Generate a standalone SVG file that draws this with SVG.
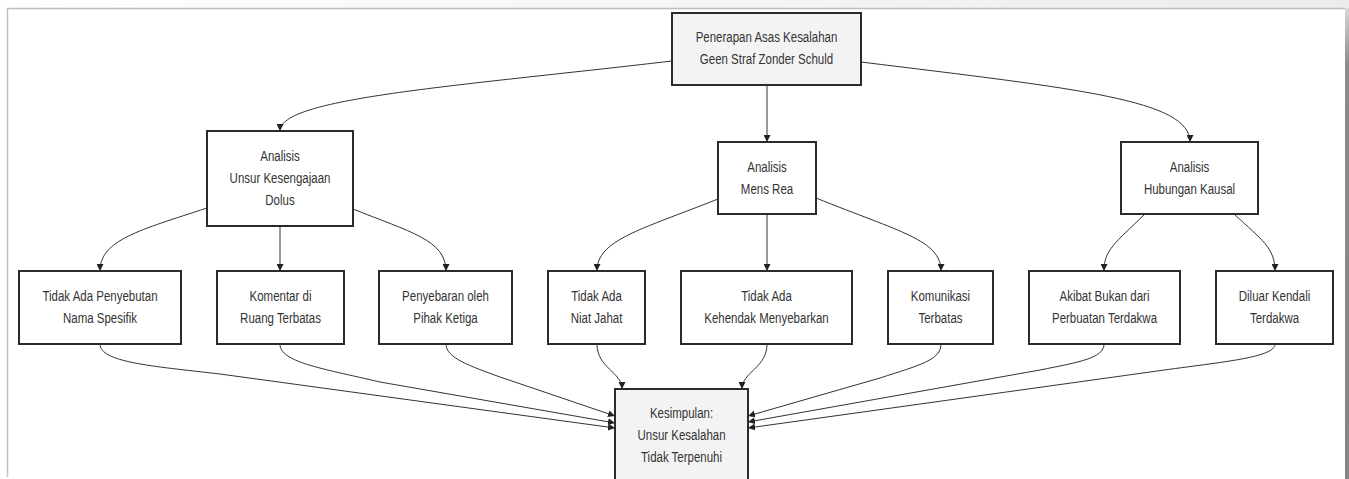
<svg xmlns="http://www.w3.org/2000/svg" width="1349" height="479" viewBox="0 0 1349 479">
  <style>
    .node rect { fill: #ffffff; stroke: #2b2b2b; stroke-width: 2; }
    .node.key rect { fill: #f3f3f3; }
    .lbl { font-family: "Liberation Sans", Arial, sans-serif; font-size: 14px; fill: #333333; text-anchor: middle; }
    .edge { fill: none; stroke: #333333; stroke-width: 1; marker-end: url(#arrow); }
  </style>
  <defs>
    <marker id="arrow" viewBox="0 0 10 10" refX="10" refY="5" markerWidth="7" markerHeight="7" markerUnits="userSpaceOnUse" orient="auto">
      <path d="M0,0 L10,5 L0,10 z" fill="#222222"/>
    </marker>
    <linearGradient id="topBand" x1="0" y1="0" x2="1" y2="0">
      <stop offset="0" stop-color="#ffffff"/>
      <stop offset="1" stop-color="#ececec"/>
    </linearGradient>
    <linearGradient id="rightBand" x1="0" y1="0" x2="0" y2="1">
      <stop offset="0" stop-color="#d8d8d8"/>
      <stop offset="0.12" stop-color="#8c8c8c"/>
      <stop offset="1" stop-color="#858585"/>
    </linearGradient>
  </defs>

  <!-- page frame -->
  <rect x="0" y="0" width="1349" height="479" fill="#ffffff"/>
  <rect x="0" y="0" width="1349" height="8" fill="url(#topBand)"/>
  <line x1="7" y1="8.5" x2="1345" y2="8.5" stroke="#bdbdbd" stroke-width="1.5"/>
  <line x1="7.5" y1="8" x2="7.5" y2="477" stroke="#c2c2c2" stroke-width="1.5"/>
  <rect x="1345" y="8" width="4" height="471" fill="url(#rightBand)"/>

  <!-- connectors -->
  <g id="edges">
    <path class="edge" d="M672,61 C450,87 280,98 280,131"/>
    <path class="edge" d="M767,85 L767,142"/>
    <path class="edge" d="M861,62 C1080,89 1190,100 1190,142"/>

    <path class="edge" d="M207,208 C140,230 100,240 100,271"/>
    <path class="edge" d="M280,226 L280,271"/>
    <path class="edge" d="M353,209 C410,232 446,240 446,271"/>

    <path class="edge" d="M718,199 C640,230 597,240 597,271"/>
    <path class="edge" d="M767,214 L767,271"/>
    <path class="edge" d="M816,198 C900,232 941,240 941,271"/>

    <path class="edge" d="M1145,214 C1115,243 1104,250 1104,271"/>
    <path class="edge" d="M1234,214 C1262,240 1275,248 1275,271"/>

    <path class="edge" d="M100,344 C100,362 150,366 220,374 L615,428"/>
    <path class="edge" d="M280,344 C280,362 320,368 380,382 L615,423"/>
    <path class="edge" d="M446,344 C446,358 470,366 500,377 L615,416"/>
    <path class="edge" d="M597,344 C597,368 622,372 622,389"/>
    <path class="edge" d="M767,344 C767,368 742,372 742,389"/>
    <path class="edge" d="M941,344 C941,360 920,365 880,378 L748,416"/>
    <path class="edge" d="M1104,344 C1104,358 1080,362 1040,370 L748,422"/>
    <path class="edge" d="M1275,344 C1275,358 1220,362 1150,372 L748,428"/>
  </g>

  <!-- nodes -->
  <g id="penerapan" class="node key">
    <rect x="672" y="13" width="189" height="72"/>
    <text class="lbl" transform="translate(766.5 0) scale(0.82 1)"><tspan x="0" y="42">Penerapan Asas Kesalahan</tspan><tspan x="0" y="64">Geen Straf Zonder Schuld</tspan></text>
  </g>
  <g id="dolus" class="node">
    <rect x="207" y="131" width="146" height="95"/>
    <text class="lbl" transform="translate(280 0) scale(0.82 1)"><tspan x="0" y="161">Analisis</tspan><tspan x="0" y="183">Unsur Kesengajaan</tspan><tspan x="0" y="205">Dolus</tspan></text>
  </g>
  <g id="mensrea" class="node">
    <rect x="718" y="142" width="98" height="72"/>
    <text class="lbl" transform="translate(767 0) scale(0.82 1)"><tspan x="0" y="172">Analisis</tspan><tspan x="0" y="194">Mens Rea</tspan></text>
  </g>
  <g id="kausal" class="node">
    <rect x="1121" y="142" width="137" height="72"/>
    <text class="lbl" transform="translate(1189.5 0) scale(0.82 1)"><tspan x="0" y="172">Analisis</tspan><tspan x="0" y="194">Hubungan Kausal</tspan></text>
  </g>

  <g id="penyebutan" class="node">
    <rect x="19" y="271" width="162" height="73"/>
    <text class="lbl" transform="translate(100 0) scale(0.82 1)"><tspan x="0" y="301.5">Tidak Ada Penyebutan</tspan><tspan x="0" y="323.5">Nama Spesifik</tspan></text>
  </g>
  <g id="komentar" class="node">
    <rect x="217" y="271" width="127" height="73"/>
    <text class="lbl" transform="translate(280.5 0) scale(0.82 1)"><tspan x="0" y="301.5">Komentar di</tspan><tspan x="0" y="323.5">Ruang Terbatas</tspan></text>
  </g>
  <g id="penyebaran" class="node">
    <rect x="379" y="271" width="133" height="73"/>
    <text class="lbl" transform="translate(445.5 0) scale(0.82 1)"><tspan x="0" y="301.5">Penyebaran oleh</tspan><tspan x="0" y="323.5">Pihak Ketiga</tspan></text>
  </g>
  <g id="niat" class="node">
    <rect x="548" y="271" width="97" height="73"/>
    <text class="lbl" transform="translate(596.5 0) scale(0.82 1)"><tspan x="0" y="301.5">Tidak Ada</tspan><tspan x="0" y="323.5">Niat Jahat</tspan></text>
  </g>
  <g id="kehendak" class="node">
    <rect x="681" y="271" width="171" height="73"/>
    <text class="lbl" transform="translate(766.5 0) scale(0.82 1)"><tspan x="0" y="301.5">Tidak Ada</tspan><tspan x="0" y="323.5">Kehendak Menyebarkan</tspan></text>
  </g>
  <g id="komunikasi" class="node">
    <rect x="888" y="271" width="105" height="73"/>
    <text class="lbl" transform="translate(940.5 0) scale(0.82 1)"><tspan x="0" y="301.5">Komunikasi</tspan><tspan x="0" y="323.5">Terbatas</tspan></text>
  </g>
  <g id="akibat" class="node">
    <rect x="1029" y="271" width="151" height="73"/>
    <text class="lbl" transform="translate(1104.5 0) scale(0.82 1)"><tspan x="0" y="301.5">Akibat Bukan dari</tspan><tspan x="0" y="323.5">Perbuatan Terdakwa</tspan></text>
  </g>
  <g id="kendali" class="node">
    <rect x="1216" y="271" width="117" height="73"/>
    <text class="lbl" transform="translate(1274.5 0) scale(0.82 1)"><tspan x="0" y="301.5">Diluar Kendali</tspan><tspan x="0" y="323.5">Terdakwa</tspan></text>
  </g>

  <g id="kesimpulan" class="node key">
    <rect x="615" y="389" width="133" height="110"/>
    <text class="lbl" transform="translate(681.5 0) scale(0.82 1)"><tspan x="0" y="418">Kesimpulan:</tspan><tspan x="0" y="440">Unsur Kesalahan</tspan><tspan x="0" y="462">Tidak Terpenuhi</tspan></text>
  </g>
</svg>
